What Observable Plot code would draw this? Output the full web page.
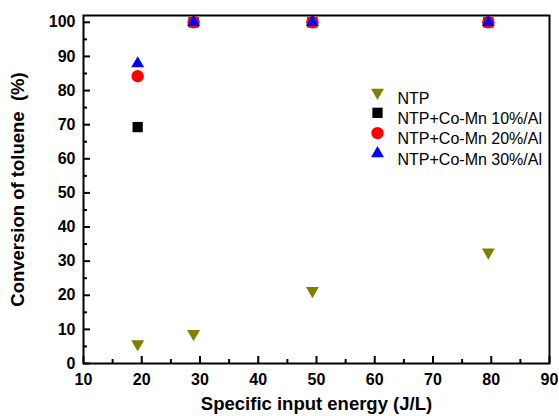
<!DOCTYPE html>
<html><head><meta charset="utf-8">
<script src="https://cdn.jsdelivr.net/npm/d3@7"></script>
<script src="https://cdn.jsdelivr.net/npm/@observablehq/plot@0.6"></script>
<style>
body{margin:0;background:#fff}
#chart svg{font-family: Arial, "Liberation Sans", sans-serif; overflow:visible}
g[aria-label="x-axis label"] text, g[aria-label="y-axis label"] text{font-size:18.5px;font-weight:bold}
</style></head><body><div id="chart"></div>
<script>
const energy = [19.3, 28.9, 49.3, 79.5];
const seriesNames = ["NTP", "NTP+Co-Mn 10%/Al", "NTP+Co-Mn 20%/Al", "NTP+Co-Mn 30%/Al"];
const ntp = [5.7, 8.7, 21.3, 32.6];
const coMn10 = [69.3, 100, 100, 100];
const coMn20 = [84.2, 100, 100, 100];
const coMn30 = [87.9, 100, 100, 100];
const xTicks = [10, 20, 30, 40, 50, 60, 70, 80, 90];
const xMinor = [15, 25, 35, 45, 55, 65, 75, 85];
const yTicks = [0, 10, 20, 30, 40, 50, 60, 70, 80, 90, 100];
const yMinor = [5, 15, 25, 35, 45, 55, 65, 75, 85, 95];

const W = 559, H = 416, mL = 83, mR = 10, mT = 15, mB = 53;
const innerW = W - mL - mR, innerH = H - mT - mB;

const styles = [
  {values: ntp, fill: "#808000", symbol: "triangle", r: 4.8, rotate: 180},
  {values: coMn10, fill: "#000000", symbol: "square", r: 5.8, rotate: 0},
  {values: coMn20, fill: "#ff0000", symbol: "circle", r: 6.2, rotate: 0},
  {values: coMn30, fill: "#0000ff", symbol: "triangle", r: 4.8, rotate: 0}
];

const marks = [];
// inward ticks
marks.push(Plot.tickX(xTicks, {x: d => d, insetTop: innerH - 7, stroke: "#000", strokeWidth: 2}));
marks.push(Plot.tickX(xMinor, {x: d => d, insetTop: innerH - 4, stroke: "#000", strokeWidth: 2}));
marks.push(Plot.tickY(yTicks, {y: d => d, insetRight: innerW - 7, stroke: "#000", strokeWidth: 2}));
marks.push(Plot.tickY(yMinor, {y: d => d, insetRight: innerW - 4, stroke: "#000", strokeWidth: 2}));
marks.push(Plot.axisX(xTicks, {tickSize: 0, tickPadding: 10, fontSize: 16, fontWeight: "bold",
  label: "Specific input energy (J/L)", labelAnchor: "center", labelArrow: "none", labelOffset: 46}));
marks.push(Plot.axisY(yTicks, {tickSize: 0, tickPadding: 8, fontSize: 16, fontWeight: "bold",
  label: "Conversion of toluene  (%)", labelAnchor: "center", labelArrow: "none", labelOffset: 73}));
marks.push(Plot.frame({stroke: "#000", strokeWidth: 2}));

styles.forEach((s, k) => {
  marks.push(Plot.dot(energy, {x: d => d, y: (d, i) => s.values[i], fill: s.fill, stroke: "none",
    symbol: s.symbol, r: s.r, rotate: s.rotate}));
});
// legend
styles.forEach((s, k) => {
  const dy = 77 + k * 20.3;
  marks.push(Plot.dot([seriesNames[k]], {frameAnchor: "top-left", dx: 294, dy, fill: s.fill, stroke: "none",
    symbol: s.symbol, r: s.r, rotate: s.rotate}));
  marks.push(Plot.text([seriesNames[k]], {frameAnchor: "top-left", dx: 314, dy, text: d => d,
    textAnchor: "start", fontSize: 16, fill: "#000"}));
});

const chart = Plot.plot({
  width: W, height: H, marginLeft: mL, marginRight: mR, marginTop: mT, marginBottom: mB,
  x: {domain: [10, 90]},
  y: {domain: [0, 102]},
  style: {background: "#fff", color: "#000"},
  marks
});
document.getElementById("chart").appendChild(chart);
</script></body></html>
